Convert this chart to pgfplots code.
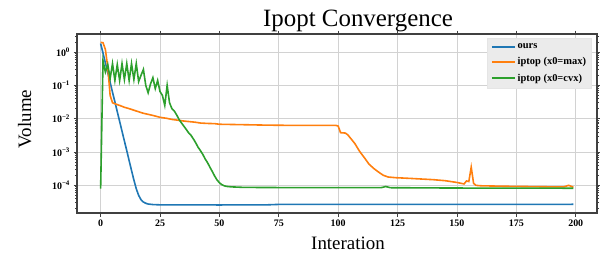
\documentclass[border=0pt]{standalone}
\usepackage{pgfplots}
\pgfplotsset{compat=1.18}
\usepackage{pgfplotstable}
\usepackage{fontspec}
\setmainfont{Liberation Serif}
\definecolor{tabblue}{HTML}{1F77B4}
\definecolor{taborange}{HTML}{FF7F0E}
\definecolor{tabgreen}{HTML}{2CA02C}

\pgfplotstableread{
x y
0 1.8
1 0.93
2 0.47
3 0.24
4 0.123
5 0.062
6 0.032
7 0.0162
8 0.0083
9 0.0042
10 0.00214
11 0.0011
12 0.00055
13 0.00028
14 0.000144
15 0.000079
16 0.000050
17 0.000037
18 0.0000316
19 0.000029
20 0.0000275
22 0.0000265
25 0.000026
50 0.0000258
70 0.000026
75 0.0000268
100 0.0000268
150 0.0000268
199 0.000027
}\ours

\pgfplotstableread{
x y
0 1.95
1 1.9
2 1.2
3 0.35
4 0.05
5 0.03
6 0.028
8 0.025
10 0.022
12 0.02
15 0.017
18 0.0145
20 0.0135
22 0.0125
25 0.011
28 0.0102
30 0.0095
35 0.0085
40 0.0078
42 0.0074
45 0.0072
48 0.0071
50 0.0068
55 0.0067
60 0.0066
70 0.0064
80 0.0063
90 0.0063
99 0.0063
100 0.006
101 0.0038
103 0.0037
104 0.0033
105 0.0027
107 0.0018
109 0.00105
111 0.00068
113 0.00043
115 0.00032
117 0.00025
119 0.0002
121 0.000178
124 0.00017
130 0.000162
140 0.000148
145 0.000138
150 0.000122
153 0.00011
154 0.000135
155 0.00013
156 0.00035
157 0.000115
158 0.0001
160 0.000097
170 0.000094
180 0.000092
190 0.00009
195 0.00009
197 0.0001
199 0.000088
}\maxinit

\pgfplotstableread{
x y
0 0.00008
1 0.55
2 0.25
3 0.42
4 0.16
5 0.45
6 0.14
7 0.42
8 0.14
9 0.45
10 0.15
11 0.45
12 0.14
13 0.45
14 0.15
15 0.45
16 0.13
17 0.2
18 0.3
19 0.1
20 0.06
21 0.11
22 0.17
23 0.08
24 0.14
25 0.065
26 0.05
27 0.025
28 0.1
29 0.03
30 0.02
31 0.017
32 0.013
33 0.0095
34 0.0075
35 0.006
36 0.0048
37 0.0038
38 0.0032
39 0.0025
40 0.0019
41 0.0014
42 0.0011
43 0.00085
44 0.00062
45 0.00048
46 0.00035
47 0.00026
48 0.00019
49 0.000145
50 0.00012
51 0.000105
52 0.000097
53 0.000093
55 0.00009
60 0.000087
70 0.000086
100 0.000085
118 0.000085
120 0.000092
122 0.000085
150 0.000083
199 0.000082
}\cvxinit

\begin{document}
\begin{tikzpicture}
\useasboundingbox (0,0) rectangle (600bp,257bp);
\begin{axis}[
  at={(77bp,44bp)}, anchor=south west,
  scale only axis, width=520bp, height=179bp,
  ymode=log,
  xmin=-9.95, xmax=208.95, ymin=1.48e-5, ymax=3.47,
  xtick={0,25,50,75,100,125,150,175,200},
  xticklabels={0,25,50,75,100,125,150,175,200},
  ytick={1e-4,1e-3,1e-2,1e-1,1},
  yticklabels={{10\textsuperscript{−4}},{10\textsuperscript{−3}},{10\textsuperscript{−2}},{10\textsuperscript{−1}},{10\textsuperscript{0}}},
  minor ytick={2e-5,3e-5,4e-5,5e-5,6e-5,7e-5,8e-5,9e-5,2e-4,3e-4,4e-4,5e-4,6e-4,7e-4,8e-4,9e-4,2e-3,3e-3,4e-3,5e-3,6e-3,7e-3,8e-3,9e-3,2e-2,3e-2,4e-2,5e-2,6e-2,7e-2,8e-2,9e-2,0.2,0.3,0.4,0.5,0.6,0.7,0.8,0.9,2,3},
  ticklabel style={font=\bfseries\fontsize{10}{12}\selectfont},
  tick align=outside,
  major tick length=3.5bp, minor tick length=2bp,
  tick style={black!75, line width=0.8bp},
  axis line style={black!75, line width=1.2bp},
  grid=major,
  major grid style={gray!35, line width=0.8bp},
  legend style={at={(0.990,0.978)}, anchor=north east, fill=black!8, draw=black!10,
    font=\bfseries\fontsize{10.5}{12}\selectfont, row sep=3.5bp, inner sep=3.5bp},
  legend cell align=left,
  legend image code/.code={\draw[#1] (0bp,0bp) -- (23bp,0bp);},
  every axis plot/.append style={line width=1.6bp},
]
\addplot[tabblue] table {\ours};
\addlegendentry{ours}
\addplot[taborange] table {\maxinit};
\addlegendentry{iptop (x0=max)}
\addplot[tabgreen] table {\cvxinit};
\addlegendentry{iptop (x0=cvx)}
\end{axis}
\node[anchor=base, font=\fontsize{25}{30}\selectfont] at (358bp,230bp) {Ipopt Convergence};
\node[anchor=base, font=\fontsize{19}{22}\selectfont] at (348bp,7.7bp) {Interation};
\node[anchor=base, rotate=90, font=\fontsize{19}{22}\selectfont] at (31bp,138bp) {Volume};
\end{tikzpicture}
\end{document}
